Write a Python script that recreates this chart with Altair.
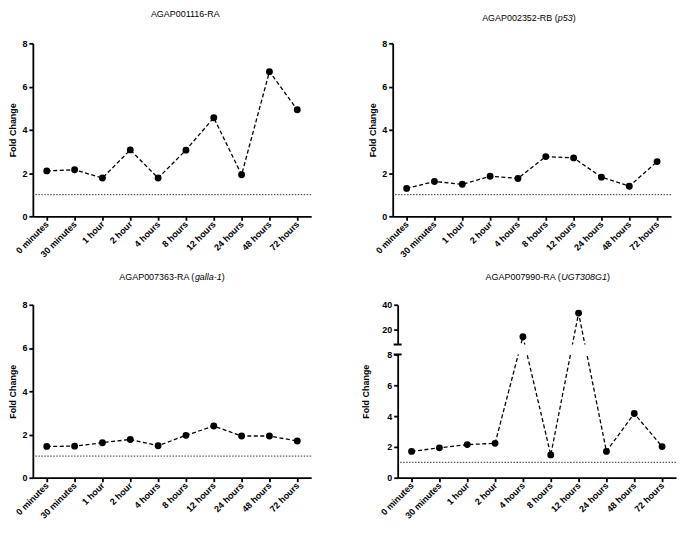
import altair as alt
import pandas as pd

# ---- data ----
times = ["0 minutes", "30 minutes", "1 hour", "2 hour", "4 hours",
         "8 hours", "12 hours", "24 hours", "48 hours", "72 hours"]
fc_001116 = [2.10, 2.15, 1.77, 3.07, 1.77, 3.06, 4.56, 1.92, 6.69, 4.93]
fc_002352 = [1.29, 1.61, 1.48, 1.85, 1.75, 2.76, 2.70, 1.81, 1.39, 2.53]
fc_007363 = [1.45, 1.46, 1.62, 1.77, 1.48, 1.96, 2.39, 1.93, 1.93, 1.70]
fc_007990 = [1.71, 1.94, 2.15, 2.23, 14.3, 1.48, 33.3, 1.71, 4.17, 2.02]
baseline = 1.0
y_ticks = [0, 2, 4, 6, 8]
y_ticks_broken = [0, 2, 4, 6, 8, 20, 40]
break_at = [8.0, 8.01]          # lower segment top / upper segment bottom
titles_plain = ["AGAP001116-RA", "AGAP002352-RB (", "AGAP007363-RA (", "AGAP007990-RA ("]
titles_italic = ["", "p53", "galla-1", "UGT308G1"]
titles_close = ["", ")", ")", ")"]

FONT = "Liberation Sans"
FS = 9
W, H = 280, 174
H_UP, GAP_BREAK = 40, 10       # upper segment and gap heights in panel 4

# approximate Arial/Liberation Sans advance widths (em) for title layout
_cw = {c: 0.556 for c in "0123456789pagn"}
_cw.update({"A": .667, "G": .778, "P": .667, "R": .722, "B": .667, "U": .722,
            "T": .611, "-": .333, " ": .278, "(": .333, ")": .333, "l": .222})


def tw(s):
    return sum(_cw.get(c, .556) for c in s) * FS


def frame(vals):
    return pd.DataFrame({"time": times, "fc": vals, "idx": list(range(len(times)))})


xe = alt.X("time:N", sort=times, scale=alt.Scale(type="point", padding=0.5),
           axis=alt.Axis(title=None, labelAngle=-45, labelAlign="right",
                         labelBaseline="middle", labelPadding=2))


def y_enc(scale, values, **kw):
    return alt.Y("fc:Q", scale=scale, axis=alt.Axis(values=values, title="Fold Change", **kw))


def series(vals, ye):
    d = frame(vals)
    line = alt.Chart(d).mark_line(color="black", strokeDash=[4, 2.5],
                                  strokeWidth=1.3).encode(x=xe, y=ye, order="idx:Q")
    dots = alt.Chart(d).mark_circle(color="black", size=48, opacity=1).encode(x=xe, y=ye)
    return [line, dots]


def ref_rule(ye):
    return alt.Chart(pd.DataFrame({"fc": [baseline]})).mark_rule(
        color="#333333", strokeDash=[1.5, 1.5], strokeWidth=1).encode(y=ye)


def title_layers(i, cx, y):
    pieces = [(titles_plain[i], "normal"), (titles_italic[i], "italic"), (titles_close[i], "normal")]
    total = sum(tw(t) for t, _ in pieces)
    x = cx - total / 2
    out = []
    for t, style in pieces:
        if t:
            out.append(alt.Chart(pd.DataFrame({"t": [0]})).mark_text(
                text=t, align="left", baseline="alphabetic", font=FONT, fontSize=FS,
                fontStyle=style, color="black").encode(x=alt.value(x), y=alt.value(y)))
        x += tw(t)
    return out


main_scale = alt.Scale(domain=[0, 8], nice=False, zero=False)
ye_main = y_enc(main_scale, y_ticks)

p1 = alt.layer(ref_rule(ye_main), *series(fc_001116, ye_main),
               *title_layers(0, 154, -26.5)).properties(width=W, height=H)
p2 = alt.layer(ref_rule(ye_main), *series(fc_002352, ye_main),
               *title_layers(1, 137, -22)).properties(width=W, height=H)
p3 = alt.layer(ref_rule(ye_main), *series(fc_007363, ye_main),
               *title_layers(2, 140, -25)).properties(width=W, height=H)

# panel 4: piecewise (broken) y axis
broken_scale = alt.Scale(domain=[0, break_at[0], break_at[1], 40],
                         range=[H, H_UP + GAP_BREAK, H_UP, 0], nice=False, zero=False)
ye_b = y_enc(broken_scale, y_ticks_broken, titlePadding=11)
gap_df = pd.DataFrame({"fc": [break_at[0]], "fc2": [break_at[1]]})
gap_mask = alt.Chart(gap_df).mark_rect(color="white").encode(
    x=alt.value(-1.5), x2=alt.value(W + 1), y=ye_b, y2="fc2:Q")
break_ticks = alt.Chart(pd.DataFrame({"fc": break_at})).mark_rule(
    color="black", strokeWidth=2).encode(x=alt.value(-4), x2=alt.value(4), y=ye_b)
p4 = alt.layer(ref_rule(ye_b), *series(fc_007990, ye_b), gap_mask, break_ticks,
               *title_layers(3, 151, -25)).properties(width=W, height=H)

row1 = alt.hconcat(p1, p2, spacing=56, bounds="full")
row2 = alt.hconcat(p3, p4, spacing=49, bounds="full")

chart = alt.vconcat(row1, row2, spacing=14, bounds="full").properties(
    padding=0, background="white"
).configure_view(stroke=None).configure_axis(
    domainColor="black", domainWidth=1.8, tickColor="black", tickWidth=1.8, tickSize=4,
    labelFont=FONT, labelFontSize=FS, labelFontWeight="bold", labelColor="black",
    labelPadding=2, titleFont=FONT, titleFontSize=FS, titleFontWeight="bold",
    titleColor="black", titlePadding=4, grid=False
)

chart.save("out.html", embed_options={"renderer": "svg", "actions": False})
